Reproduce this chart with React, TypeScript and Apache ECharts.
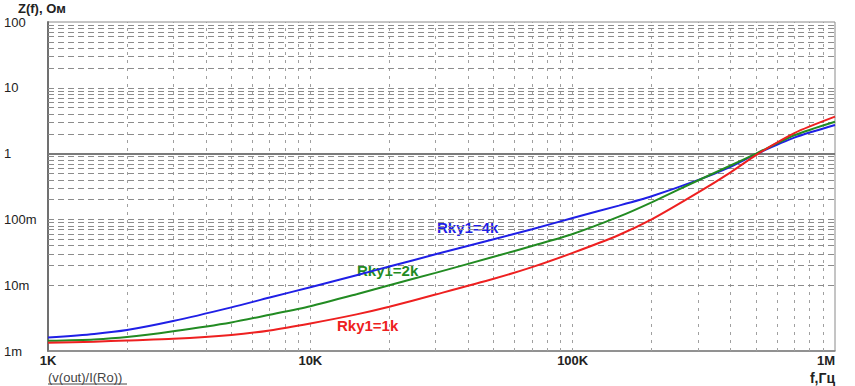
import React, { useEffect, useRef } from "react";
import * as echarts from "echarts";

const freqs = [1000, 1500, 2000, 3000, 5000, 7000, 10000, 15000, 20000, 30000, 50000, 70000, 100000, 150000, 200000, 300000, 400000, 500000, 700000, 1000000];
const z4k = [0.0016, 0.00182, 0.00208, 0.00285, 0.0046, 0.0065, 0.0093, 0.0142, 0.0192, 0.0295, 0.05, 0.071, 0.105, 0.162, 0.225, 0.395, 0.63, 0.98, 1.75, 2.72];
const z2k = [0.00143, 0.0015, 0.00163, 0.002, 0.00272, 0.00356, 0.0048, 0.0073, 0.01, 0.0154, 0.027, 0.0395, 0.06, 0.11, 0.182, 0.39, 0.66, 1.0, 1.9, 3.05];
const z1k = [0.00134, 0.001385, 0.00145, 0.00153, 0.00175, 0.00205, 0.00262, 0.0036, 0.0047, 0.0072, 0.0125, 0.0188, 0.031, 0.058, 0.1, 0.255, 0.52, 0.95, 2.05, 3.64];

const xTickLabels: Record<string, string> = { "1000": "1K", "10000": "10K", "100000": "100K", "1000000": "1M" };
const yTickLabels: Record<string, string> = { "-3": "1m", "-2": "10m", "-1": "100m", "0": "1", "1": "10", "2": "100" };

const seriesNames = ["Rky1=4k", "Rky1=2k", "Rky1=1k"];
const seriesColors = ["#1f1fe6", "#228b22", "#ee2020"];

function gridValues(fromExp: number, toExp: number): number[] {
  const out: number[] = [];
  for (let e = fromExp; e < toExp; e++) {
    for (let k = 1; k <= 9; k++) {
      if (e === fromExp && k === 1) continue;
      out.push(parseFloat((k * Math.pow(10, e)).toPrecision(6)));
    }
  }
  return out;
}

export default function App() {
  const ref = useRef<HTMLDivElement>(null);
  useEffect(() => {
    if (!ref.current) return;
    const chart = echarts.init(ref.current, null, { renderer: "svg" });
    const xGrid = gridValues(3, 6);
    const yGrid = gridValues(-3, 2).filter((v) => Math.abs(v - 1) > 1e-9);
    const mk = [
      ...xGrid.map((v) => ({ xAxis: v, lineStyle: { color: "#a0a0a0", type: [3, 5], width: 1 } })),
      ...yGrid.map((v) => ({ yAxis: v, lineStyle: { color: "#8c8c8c", type: [6, 4], width: 1 } })),
      { yAxis: 1, lineStyle: { color: "#7a7a7a", type: "solid", width: 2 } },
    ];
    const data = [z4k, z2k, z1k];
    const series: any[] = data.map((arr, i) => ({
      name: seriesNames[i],
      type: "line",
      data: freqs.map((f, j) => [f, arr[j]]),
      showSymbol: false,
      smooth: 0.25,
      lineStyle: { color: seriesColors[i], width: 2 },
      z: 5,
    }));
    series.unshift({
      type: "line",
      data: [],
      silent: true,
      z: 1,
      markLine: { silent: true, symbol: "none", animation: false, label: { show: false }, data: mk },
    });
    chart.setOption({
      animation: false,
      grid: { left: 48, right: 20, top: 22, bottom: 35, show: true, borderColor: "#8a8a8a", borderWidth: 1 },
      xAxis: {
        type: "log",
        logBase: 10,
        min: 1000,
        max: 1000000,
        axisLine: { show: true, lineStyle: { color: "#808080", width: 1.5 } },
        axisTick: { show: false },
        splitLine: { show: false },
        axisLabel: {
          margin: 3,
          color: "#222",
          fontFamily: "Liberation Sans, Arial, sans-serif",
          fontSize: 13,
          fontWeight: "bold",
          alignMinLabel: "left",
          alignMaxLabel: "right",
          formatter: (v: number) => xTickLabels[String(Math.round(v))] || "",
        },
      },
      yAxis: {
        type: "log",
        logBase: 10,
        min: 0.001,
        max: 100,
        axisLine: { show: true, lineStyle: { color: "#707070", width: 2 } },
        axisTick: { show: false },
        splitLine: { show: false },
        axisLabel: {
          margin: 44,
          align: "left",
          color: "#222",
          fontFamily: "Liberation Sans, Arial, sans-serif",
          fontSize: 13,
          lineHeight: 12,
          formatter: (v: number) => yTickLabels[String(Math.round(Math.log10(v)))] || "",
        },
      },
      series,
      graphic: [
        { type: "text", left: 18, top: 2, style: { text: "Z(f), Ом", font: "bold 13px Liberation Sans, Arial, sans-serif", fill: "#222" } },
        { type: "text", left: 48, top: 371, style: { text: "(v(out)/I(Ro))", font: "13px Liberation Sans, Arial, sans-serif", fill: "#444" } },
        { type: "line", shape: { x1: 48, y1: 384, x2: 127, y2: 384 }, style: { stroke: "#444", lineWidth: 1 } },
        { type: "text", right: 20, top: 371, style: { text: "f,Гц", font: "bold 14px Liberation Sans, Arial, sans-serif", fill: "#222" } },
        { type: "text", left: 437, top: 220, style: { text: seriesNames[0], font: "bold 15px Liberation Sans, Arial, sans-serif", fill: seriesColors[0] } },
        { type: "text", left: 357, top: 263, style: { text: seriesNames[1], font: "bold 15px Liberation Sans, Arial, sans-serif", fill: seriesColors[1] } },
        { type: "text", left: 337, top: 318, style: { text: seriesNames[2], font: "bold 15px Liberation Sans, Arial, sans-serif", fill: seriesColors[2] } },
      ],
    });
    return () => chart.dispose();
  }, []);
  return <div ref={ref} style={{ position: "fixed", left: 0, top: 0, width: 855, height: 386, background: "#fff" }} />;
}
